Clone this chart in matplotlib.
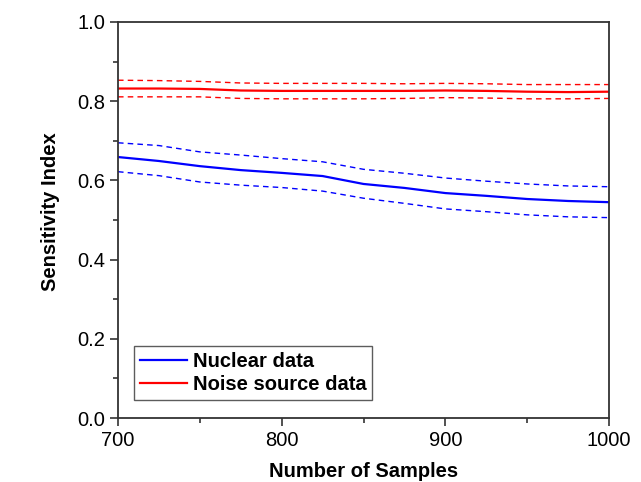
import matplotlib
matplotlib.use("Agg")
import matplotlib.pyplot as plt
from matplotlib.ticker import MultipleLocator

plt.rcParams['font.family'] = ['Liberation Sans', 'DejaVu Sans']

samples = [700, 725, 750, 775, 800, 825, 850, 875, 900, 925, 950, 975, 1000]
nuclear = [0.659, 0.649, 0.636, 0.626, 0.619, 0.611, 0.591, 0.581, 0.568, 0.561, 0.553, 0.548, 0.545]
nuclear_upper = [0.695, 0.688, 0.672, 0.664, 0.655, 0.647, 0.628, 0.618, 0.606, 0.598, 0.591, 0.586, 0.584]
nuclear_lower = [0.622, 0.612, 0.596, 0.588, 0.582, 0.573, 0.555, 0.542, 0.528, 0.521, 0.513, 0.508, 0.506]
noise = [0.832, 0.832, 0.831, 0.827, 0.826, 0.826, 0.826, 0.826, 0.827, 0.826, 0.824, 0.823, 0.824]
noise_upper = [0.853, 0.852, 0.850, 0.846, 0.845, 0.845, 0.845, 0.844, 0.845, 0.844, 0.842, 0.842, 0.842]
noise_lower = [0.811, 0.811, 0.811, 0.807, 0.806, 0.806, 0.806, 0.807, 0.809, 0.808, 0.806, 0.806, 0.807]

fig = plt.figure(figsize=(6.41, 4.82), dpi=100)
ax = fig.add_axes([118/641, 1-418/482, 491/641, 396/482])

dash = (0, (4, 3))
ax.plot(samples, nuclear, color='#0000ff', lw=1.6, label='Nuclear data')
ax.plot(samples, noise, color='#ff0000', lw=1.6, label='Noise source data')
ax.plot(samples, nuclear_upper, color='#0000ff', lw=1.0, linestyle=dash)
ax.plot(samples, nuclear_lower, color='#0000ff', lw=1.0, linestyle=dash)
ax.plot(samples, noise_upper, color='#ff0000', lw=1.0, linestyle=dash)
ax.plot(samples, noise_lower, color='#ff0000', lw=1.0, linestyle=dash)

ax.set_xlim(700, 1000)
ax.set_ylim(0.0, 1.0)
ax.xaxis.set_major_locator(MultipleLocator(100))
ax.xaxis.set_minor_locator(MultipleLocator(50))
ax.yaxis.set_major_locator(MultipleLocator(0.2))
ax.yaxis.set_minor_locator(MultipleLocator(0.1))
ax.set_yticklabels([f"{v:.1f}" for v in ax.get_yticks()])

for s in ax.spines.values():
    s.set_color('#333333')
    s.set_linewidth(1.3)
ax.tick_params(which='major', direction='out', length=6, width=1.2, color='#333333',
               labelsize=14.5, labelcolor='#000000', pad=3)
ax.tick_params(which='minor', direction='out', length=3.5, width=1.2, color='#333333')
ax.tick_params(top=False, right=False, which='both')

ax.set_xlabel('Number of Samples', fontsize=14.5, fontweight='bold', labelpad=9)
ax.set_ylabel('Sensitivity Index', fontsize=14.5, fontweight='bold')
ax.yaxis.set_label_coords(-0.118, 0.522)

leg = ax.legend(loc='lower left', bbox_to_anchor=(0.033, 0.045), fancybox=False,
                frameon=True, edgecolor='#333333', handlelength=2.3,
                borderaxespad=0, borderpad=0.3, labelspacing=0.2, handletextpad=0.3,
                prop={'weight': 'bold', 'size': 14.5})
leg.get_frame().set_linewidth(1.0)

fig.savefig('out.png', dpi=100)
